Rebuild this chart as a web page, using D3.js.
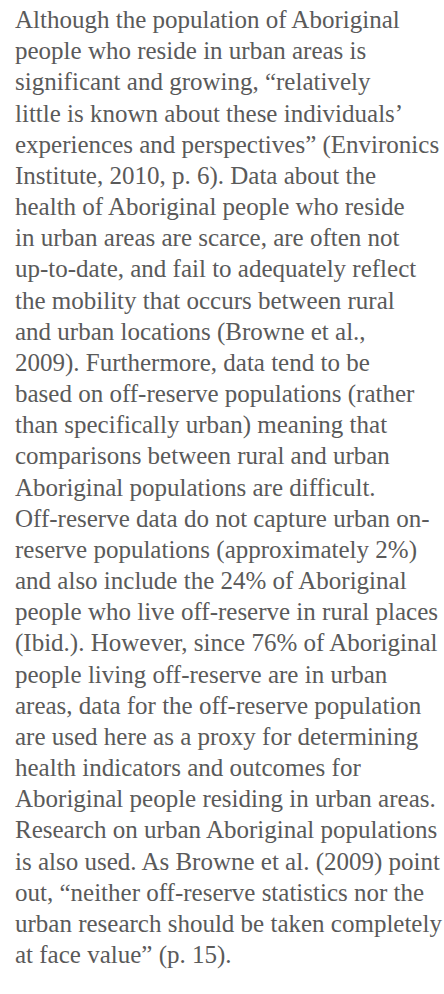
<!DOCTYPE html>
<html>
<head>
<meta charset="utf-8">
<script src="https://cdn.jsdelivr.net/npm/d3@7"></script>
<style>
  html, body { margin: 0; padding: 0; background: #fff; }
</style>
</head>
<body>
<svg id="page"></svg>
<script>
// Paragraph lines, broken as in the reference
const lines = [
  "Although the population of Aboriginal",
  "people who reside in urban areas is",
  "significant and growing, \u201crelatively",
  "little is known about these individuals\u2019",
  "experiences and perspectives\u201d (Environics",
  "Institute, 2010, p. 6). Data about the",
  "health of Aboriginal people who reside",
  "in urban areas are scarce, are often not",
  "up-to-date, and fail to adequately reflect",
  "the mobility that occurs between rural",
  "and urban locations (Browne et al.,",
  "2009). Furthermore, data tend to be",
  "based on off-reserve populations (rather",
  "than specifically urban) meaning that",
  "comparisons between rural and urban",
  "Aboriginal populations are difficult.",
  "Off-reserve data do not capture urban on-",
  "reserve populations (approximately 2%)",
  "and also include the 24% of Aboriginal",
  "people who live off-reserve in rural places",
  "(Ibid.). However, since 76% of Aboriginal",
  "people living off-reserve are in urban",
  "areas, data for the off-reserve population",
  "are used here as a proxy for determining",
  "health indicators and outcomes for",
  "Aboriginal people residing in urban areas.",
  "Research on urban Aboriginal populations",
  "is also used. As Browne et al. (2009) point",
  "out, \u201cneither off-reserve statistics nor the",
  "urban research should be taken completely",
  "at face value\u201d (p. 15)."
];

const width = 444, height = 994;
const left = 15;
const textWidth = 427; // widest line runs to the right edge

const svg = d3.select("#page")
    .attr("width", width)
    .attr("height", height)
    .style("display", "block");

const y = d3.scalePoint()
    .domain(d3.range(lines.length))
    .range([28, 963]);

const g = svg.append("g")
    .style("font-family", "'Liberation Serif', serif")
    .attr("font-size", 22)
    .attr("fill", "#5a5a5a");

const txt = g.selectAll("text")
  .data(lines)
  .join("text")
    .attr("x", left)
    .attr("y", (d, i) => y(i))
    .text(d => d);

// size the font so the widest line fills the column
const widest = d3.max(txt.nodes(), n => n.getComputedTextLength());
g.attr("font-size", 22 * textWidth / widest);
</script>
</body>
</html>
